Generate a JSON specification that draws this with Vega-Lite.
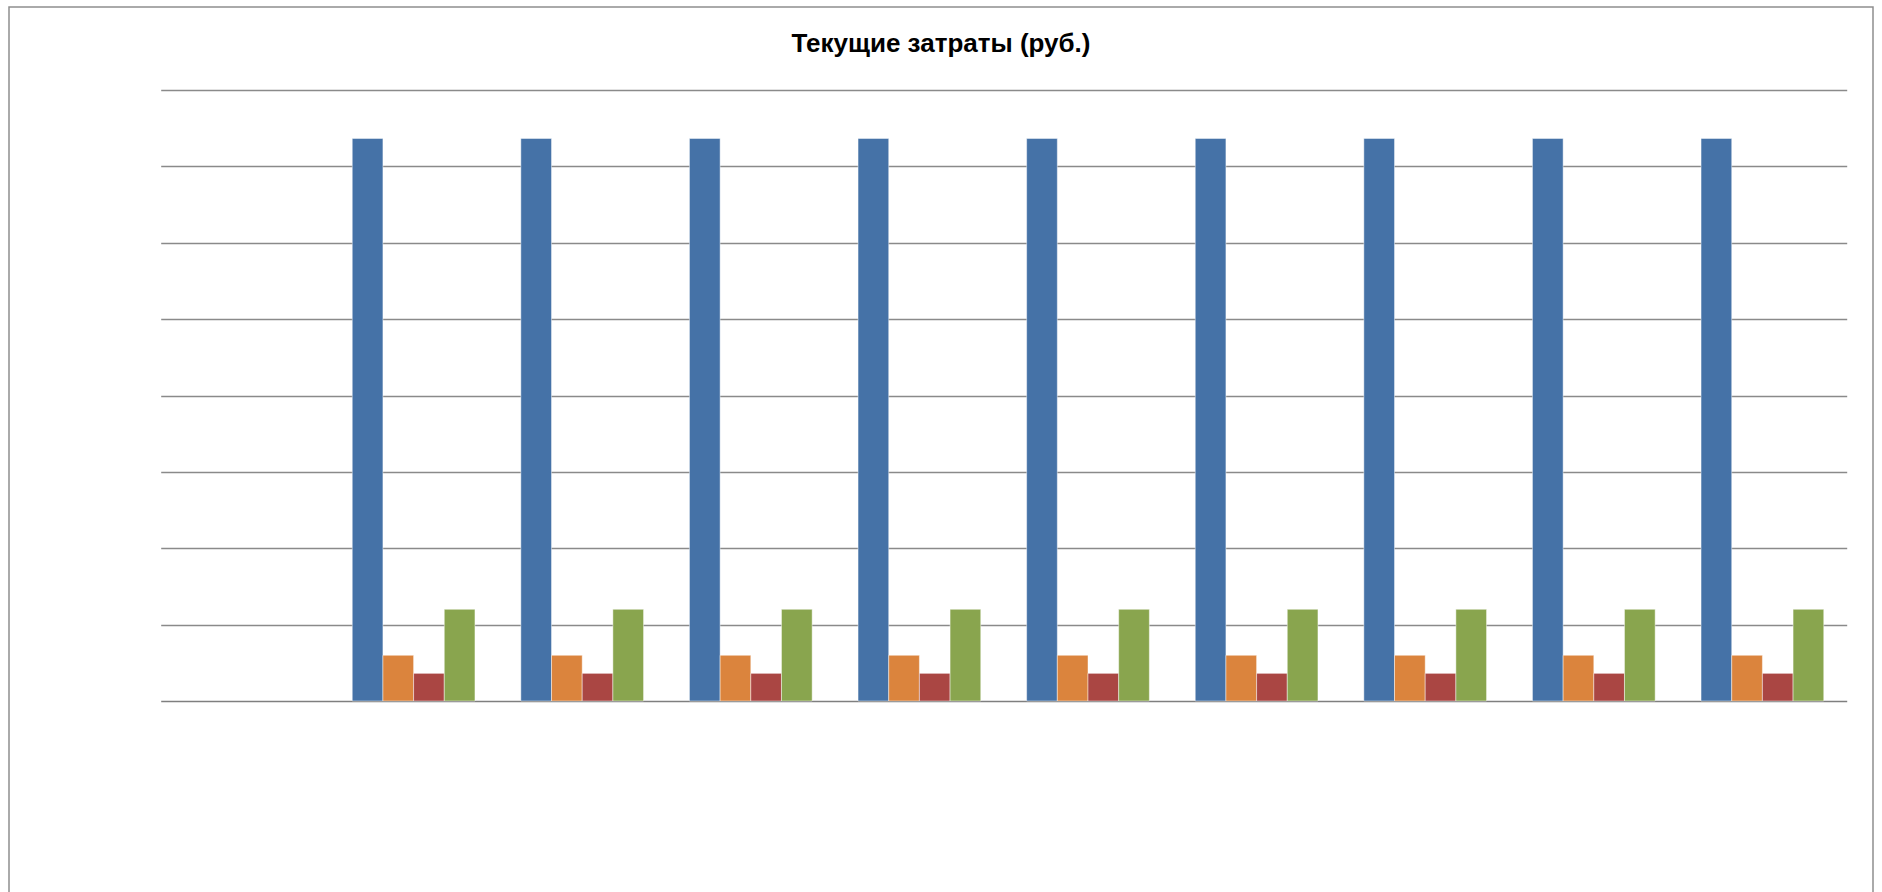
{
  "$schema": "https://vega.github.io/schema/vega-lite/v6.json",
  "autosize": "none",
  "padding": {"left": 9, "top": 7, "right": 9, "bottom": 0},
  "width": 1864,
  "height": 885,
  "background": "white",
  "config": {
    "view": {"stroke": "#8e8e8e", "strokeWidth": 1.5, "strokeDash": [2749, 1864, 885]}
  },
  "title": {
    "text": "Текущие затраты (руб.)",
    "font": "Liberation Sans",
    "fontSize": 26,
    "fontWeight": "bold",
    "color": "#000000",
    "anchor": "middle",
    "frame": "group",
    "offset": -50
  },
  "data": {
    "values": [
      {"cat": "2", "series": "Ряд1", "value": 73650},
      {"cat": "2", "series": "Ряд2", "value": 5980},
      {"cat": "2", "series": "Ряд3", "value": 3620},
      {"cat": "2", "series": "Ряд4", "value": 12000},
      {"cat": "3", "series": "Ряд1", "value": 73650},
      {"cat": "3", "series": "Ряд2", "value": 5980},
      {"cat": "3", "series": "Ряд3", "value": 3620},
      {"cat": "3", "series": "Ряд4", "value": 12000},
      {"cat": "4", "series": "Ряд1", "value": 73650},
      {"cat": "4", "series": "Ряд2", "value": 5980},
      {"cat": "4", "series": "Ряд3", "value": 3620},
      {"cat": "4", "series": "Ряд4", "value": 12000},
      {"cat": "5", "series": "Ряд1", "value": 73650},
      {"cat": "5", "series": "Ряд2", "value": 5980},
      {"cat": "5", "series": "Ряд3", "value": 3620},
      {"cat": "5", "series": "Ряд4", "value": 12000},
      {"cat": "6", "series": "Ряд1", "value": 73650},
      {"cat": "6", "series": "Ряд2", "value": 5980},
      {"cat": "6", "series": "Ряд3", "value": 3620},
      {"cat": "6", "series": "Ряд4", "value": 12000},
      {"cat": "7", "series": "Ряд1", "value": 73650},
      {"cat": "7", "series": "Ряд2", "value": 5980},
      {"cat": "7", "series": "Ряд3", "value": 3620},
      {"cat": "7", "series": "Ряд4", "value": 12000},
      {"cat": "8", "series": "Ряд1", "value": 73650},
      {"cat": "8", "series": "Ряд2", "value": 5980},
      {"cat": "8", "series": "Ряд3", "value": 3620},
      {"cat": "8", "series": "Ряд4", "value": 12000},
      {"cat": "9", "series": "Ряд1", "value": 73650},
      {"cat": "9", "series": "Ряд2", "value": 5980},
      {"cat": "9", "series": "Ряд3", "value": 3620},
      {"cat": "9", "series": "Ряд4", "value": 12000},
      {"cat": "10", "series": "Ряд1", "value": 73650},
      {"cat": "10", "series": "Ряд2", "value": 5980},
      {"cat": "10", "series": "Ряд3", "value": 3620},
      {"cat": "10", "series": "Ряд4", "value": 12000}
    ]
  },
  "mark": {"type": "bar", "stroke": "#ffffff", "strokeOpacity": 0.45, "strokeWidth": 1},
  "encoding": {
    "x": {
      "field": "cat",
      "type": "nominal",
      "scale": {
        "domain": ["1", "2", "3", "4", "5", "6", "7", "8", "9", "10"],
        "range": [151.7, 1837.7],
        "paddingInner": 0.2722,
        "paddingOuter": 0.1361
      },
      "axis": null
    },
    "xOffset": {
      "field": "series",
      "type": "nominal",
      "scale": {"domain": ["Ряд1", "Ряд2", "Ряд3", "Ряд4"], "paddingInner": 0, "paddingOuter": 0}
    },
    "y": {
      "field": "value",
      "type": "quantitative",
      "scale": {"domain": [0, 80000], "range": [694, 83], "nice": false, "zero": true},
      "axis": {
        "orient": "left",
        "domain": false,
        "ticks": false,
        "labels": false,
        "title": null,
        "grid": true,
        "gridColor": {"condition": {"test": "datum.value === 0", "value": "#7f7f7f"}, "value": "#8a8a8a"},
        "gridWidth": 1.5,
        "values": [0, 10000, 20000, 30000, 40000, 50000, 60000, 70000, 80000]
      }
    },
    "color": {
      "field": "series",
      "type": "nominal",
      "scale": {
        "domain": ["Ряд1", "Ряд2", "Ряд3", "Ряд4"],
        "range": ["#4572A7", "#DB843D", "#AA4643", "#89A54E"]
      },
      "legend": null
    }
  }
}
